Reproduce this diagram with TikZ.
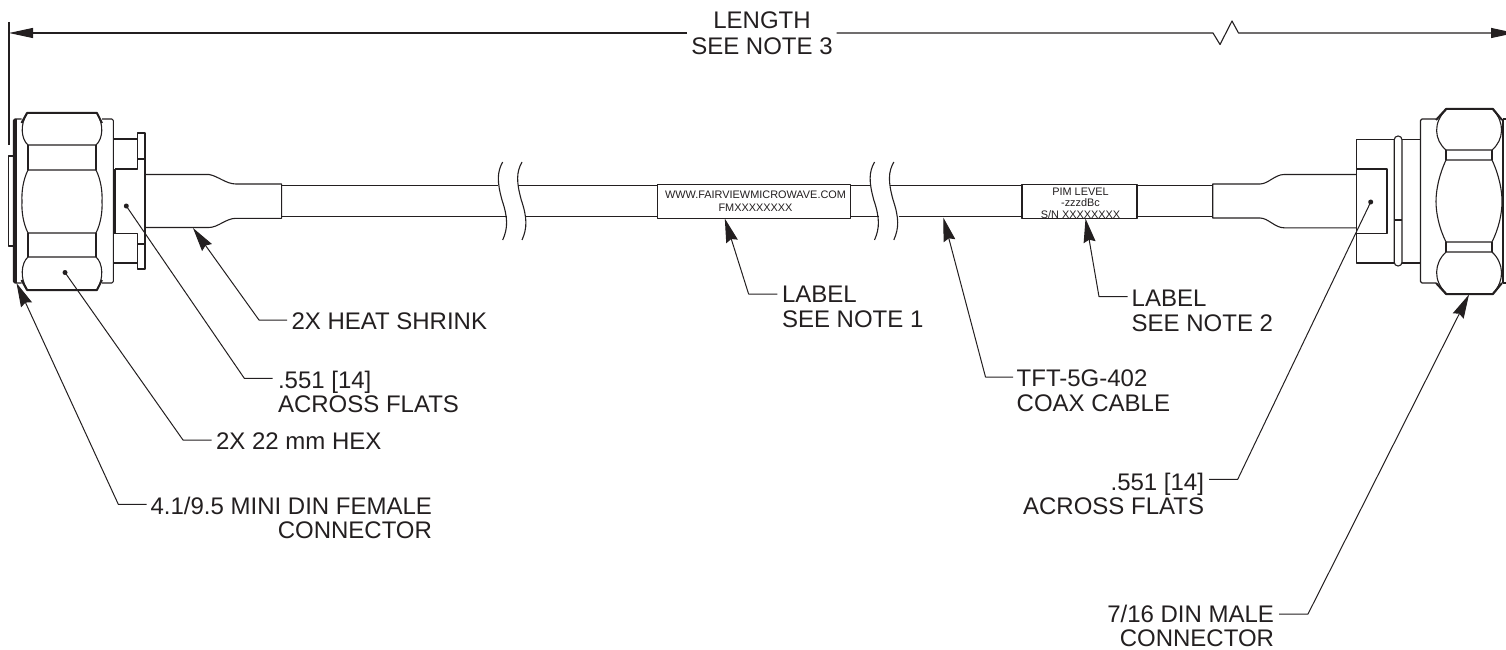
\documentclass[tikz,border=0pt]{standalone}
\usepackage{fontspec}
\setmainfont{Liberation Sans}
\usetikzlibrary{arrows.meta}
\definecolor{ink}{HTML}{231F20}
\tikzset{
  part/.style={draw=ink,line width=1.1pt},
  heavy/.style={draw=ink,line width=2pt},
  leader/.style={draw=ink,line width=1pt},
  tiparrow/.style={-{Stealth[length=24pt,width=12pt,inset=2.5pt]}},
  callout/.style={inner sep=0pt,outer sep=0pt,text=ink,font=\fontsize{24}{24.4}\selectfont},
  tag/.style={inner sep=0pt,outer sep=0pt,text=ink,align=center},
  dotmark/.style={circle,fill=ink,inner sep=0pt,minimum size=5pt},
  dimline/.style={draw=ink,line width=1.1pt},
  dimtip/.style={-{Triangle[length=24pt,width=10pt]}}
}
\begin{document}
\begin{tikzpicture}[x=1pt,y=-1pt,line join=round]
\useasboundingbox (0,0) rectangle (1506,650);
\clip (0,0) rectangle (1506,650);

% ---------- cable ----------
\draw[part] (281.6,185.7) -- (498,185.7) (517.7,185.7) -- (870,185.7) (889.5,185.7) -- (1212.7,185.7);
\draw[part] (281.6,216.7) -- (507,216.7) (526,216.7) -- (879,216.7) (898.5,216.7) -- (1212.7,216.7);
% breaks
\foreach \bx in {0,19.3}{
 \draw[part] (502.7+\bx,162) .. controls (497+\bx,172) and (497+\bx,182) .. (502+\bx,200) .. controls (508+\bx,218) and (508+\bx,228) .. (502.7+\bx,240);
 \draw[part] (874.5+\bx,162) .. controls (868.8+\bx,172) and (868.8+\bx,182) .. (873.8+\bx,200) .. controls (879.8+\bx,218) and (879.8+\bx,228) .. (874.5+\bx,240);
}
% labels on cable
\node[part,fill=white,inner sep=0pt,minimum width=192.5pt,minimum height=33.5pt] (labelone) at (753.8,201.3) {};
\node[tag,font=\fontsize{10.9}{13.6}\selectfont,anchor=base] (labelonetext) at (755.5,211.6) {WWW.FAIRVIEWMICROWAVE.COM\\FMXXXXXXXX};
\node[part,fill=white,inner sep=0pt,minimum width=115pt,minimum height=33.5pt] (labeltwo) at (1079.5,201.3) {};
\node[tag,font=\fontsize{10.9}{11.7}\selectfont,anchor=base] (labeltwotext) at (1080.5,218.4) {PIM LEVEL\\-zzzdBc\\S/N XXXXXXXX};

% ---------- left heat shrink ----------
\draw[part] (145,174.5) -- (209,174.5) .. controls (218,176) and (226,184) .. (236,184) -- (281.6,184) -- (281.6,218.3) -- (236,218.3) .. controls (226,218.3) and (218,227.5) .. (209,227.5) -- (145,227.5);

% ---------- left connector ----------
\draw[part] (13.3,156) -- (8.7,156) -- (8.7,246) -- (13.3,246);
\draw[part,rounded corners=1.5pt] (21.5,119) -- (13.5,119) -- (13.5,283) -- (21.5,283);
\draw[draw=ink,line width=2pt] (14.5,119) -- (14.5,283);
\draw[part] (16.8,119) -- (16.8,283);
% hex
\draw[heavy] (21.5,123) -- (27,113) -- (97,113) -- (102,123);
\draw[heavy] (21.5,280) -- (27,290) -- (97,290) -- (102,280);
\draw[part] (27,114) .. controls (20,124) and (21,139) .. (28,145) -- (96,145) .. controls (103,139) and (104,124) .. (97,114);
\draw[part] (27,289) .. controls (20,279) and (21,263) .. (28,257) -- (96,257) .. controls (103,263) and (104,279) .. (97,289);
\draw[part] (28,170) -- (96,170) .. controls (101,180) and (102.5,192) .. (102,201.5) .. controls (102.5,211) and (101,223) .. (96,233) -- (28,233) .. controls (23,223) and (21.5,211) .. (22,201.5) .. controls (21.5,192) and (23,180) .. (28,170);
\draw[part] (28,145) -- (28,170) (96,145) -- (96,170) (28,233) -- (28,257) (96,233) -- (96,257);
% flange behind hex
\draw[part,rounded corners=1.5pt] (102,119) -- (113.3,119) -- (113.3,283) -- (102,283);
% ears and flats plate
\draw[part] (113.3,139) -- (137.3,139);
\draw[part] (113.3,263) -- (137.3,263);
\draw[part] (115,169) -- (137.3,169) -- (137.3,133) -- (145,133) -- (145,269) -- (137.3,269) -- (137.3,233.5) -- (115,233.5);
\draw[part] (137.3,159) -- (145,159) (137.3,244) -- (145,244);
\draw[heavy] (114.6,169) -- (114.6,233.5);

% ---------- right heat shrink ----------
\draw[part] (1356.5,174.5) -- (1284,174.5) .. controls (1275,174.5) and (1268,184) .. (1260,184) -- (1212.7,184) -- (1212.7,218) -- (1260,218) .. controls (1268,218) and (1275,227.8) .. (1284,227.8) -- (1356.5,227.8);

% ---------- right connector ----------
\draw[part] (1356.5,139.5) rectangle (1420.5,263);
\draw[part] (1356.5,169) -- (1387,169) -- (1387,233.5) -- (1356.5,233.5);
\draw[part,fill=white,rounded corners=3.8pt] (1394.2,136) rectangle (1402,266);
\draw[heavy] (1394.2,220) -- (1402,220);
\draw[part,rounded corners=1.5pt] (1436,119) -- (1420.5,119) -- (1420.5,283) -- (1436,283);
% hex
\draw[heavy] (1436,120) -- (1446,109) -- (1493,109) -- (1502,120);
\draw[heavy] (1436,283) -- (1446,294) -- (1493,294) -- (1502,283);
\draw[part] (1446,110) .. controls (1433,122) and (1434,140) .. (1446,150) -- (1492,150) .. controls (1504,140) and (1505,122) .. (1493,110);
\draw[part] (1446,293) .. controls (1433,281) and (1434,263) .. (1446,252) -- (1492,252) .. controls (1504,263) and (1505,281) .. (1493,293);
\draw[part] (1446,160) -- (1492,160) .. controls (1499,175) and (1502,190) .. (1502,201.5) .. controls (1502,213) and (1499,228) .. (1492,242) -- (1446,242) .. controls (1439,228) and (1436,213) .. (1436,201.5) .. controls (1436,190) and (1439,175) .. (1446,160);
\draw[part] (1446,150) -- (1446,160) (1492,150) -- (1492,160) (1446,242) -- (1446,252) (1492,242) -- (1492,252);
\draw[part] (1503,119) -- (1510,119) (1503,283) -- (1510,283) (1503,119) -- (1503,283);

% ---------- overall dimension ----------
\coordinate (extA) at (9,22);
\coordinate (extB) at (9,145);
\draw[dimline] (extA) -- (extB);
\node[callout,font=\fontsize{24}{26}\selectfont,align=center,anchor=base] (lengthtext) at (762,54.3) {LENGTH\\SEE NOTE 3};
\coordinate (dimL) at (9,33);
\coordinate (dimLs) at (687,33);
\coordinate (dimRs) at (836.7,33);
\coordinate (zigA) at (1213,33);
\coordinate (zigB) at (1220,44.5);
\coordinate (zigC) at (1232,21);
\coordinate (zigD) at (1238.5,33);
\coordinate (dimR) at (1515,33);
\draw[dimline,dimtip] (dimLs) -- (dimL);
\draw[dimline,dimtip] (dimRs) -- (zigA) -- (zigB) -- (zigC) -- (zigD) -- (dimR);

% ---------- callouts ----------
\node[callout,anchor=base west] (heat) at (291.5,329) {2X HEAT SHRINK};
\coordinate (heatE) at (259,320); \coordinate (heatT) at (193,228);
\draw[leader,tiparrow] (287,320) -- (heatE) -- (heatT);

\node[callout,align=left,anchor=base west] (flatsL) at (278,412.4) {.551 [14]\\ACROSS FLATS};
\coordinate (flatsLE) at (244.3,378.3);
\node[dotmark] (flatsLD) at (126.3,206) {};
\draw[leader] (272.7,378.3) -- (flatsLE) -- (flatsLD.center);

\node[callout,anchor=base west] (hex) at (216,449) {2X 22 mm HEX};
\coordinate (hexE) at (183,440);
\node[dotmark] (hexD) at (65,272.5) {};
\draw[leader] (211.7,440) -- (hexE) -- (hexD.center);

\node[callout,align=right,anchor=base east] (female) at (432,538.4) {4.1/9.5 MINI DIN FEMALE\\CONNECTOR};
\coordinate (femaleE) at (118.3,504.3); \coordinate (femaleT) at (16.5,283);
\draw[leader,tiparrow] (146.7,504.3) -- (femaleE) -- (femaleT);

\node[callout,align=left,anchor=base west] (noteone) at (782,327.1) {LABEL\\SEE NOTE 1};
\coordinate (noteoneE) at (748.6,294); \coordinate (noteoneT) at (724.8,218.5);
\draw[leader,tiparrow] (777.3,294) -- (noteoneE) -- (noteoneT);

\node[callout,align=left,anchor=base west] (notetwo) at (1131.7,331.1) {LABEL\\SEE NOTE 2};
\coordinate (notetwoE) at (1099,296.7); \coordinate (notetwoT) at (1085.5,218.5);
\draw[leader,tiparrow] (1127.5,296.7) -- (notetwoE) -- (notetwoT);

\node[callout,align=left,anchor=base west] (coax) at (1016.7,411.1) {TFT-5G-402\\COAX CABLE};
\coordinate (coaxE) at (985.5,377); \coordinate (coaxT) at (943.3,217.5);
\draw[leader,tiparrow] (1013,377) -- (coaxE) -- (coaxT);

\node[callout,align=right,anchor=base east] (flatsR) at (1204,514.4) {.551 [14]\\ACROSS FLATS};
\coordinate (flatsRE) at (1237.7,479.3);
\node[dotmark] (flatsRD) at (1370.7,202) {};
\draw[leader] (1209,479.3) -- (flatsRE) -- (flatsRD.center);

\node[callout,align=right,anchor=base east] (male) at (1274,646.4) {7/16 DIN MALE\\CONNECTOR};
\coordinate (maleE) at (1308,614); \coordinate (maleT) at (1469,294.5);
\draw[leader,tiparrow] (1279,614) -- (maleE) -- (maleT);
\end{tikzpicture}
\end{document}
